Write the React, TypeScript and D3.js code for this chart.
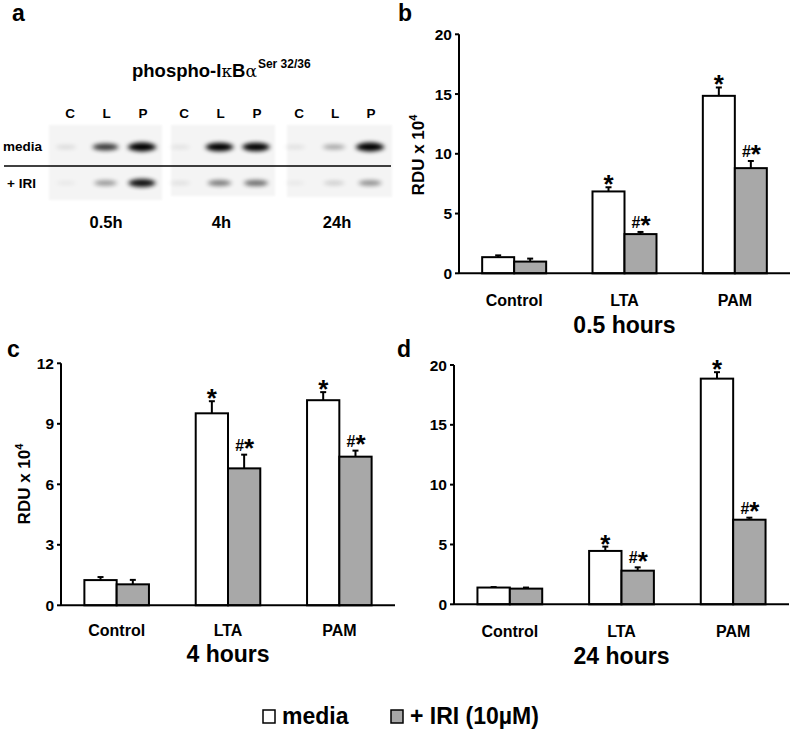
import React from "react";
import * as d3 from "d3";

const categories = ["Control", "LTA", "PAM"];
const series = ["media", "+ IRI (10µM)"];
const seriesFill = ["#ffffff", "#a8a8a8"];

// Panel b: 0.5 hours
const b05Media = [1.35, 6.85, 14.85];
const b05MediaErr = [0.15, 0.35, 0.7];
const b05Iri = [0.98, 3.28, 8.8];
const b05IriErr = [0.25, 0.18, 0.6];

// Panel c: 4 hours
const c4Media = [1.25, 9.52, 10.17];
const c4MediaErr = [0.15, 0.6, 0.4];
const c4Iri = [1.04, 6.79, 7.37];
const c4IriErr = [0.22, 0.68, 0.3];

// Panel d: 24 hours
const d24Media = [1.4, 4.46, 18.86];
const d24MediaErr = [0.04, 0.36, 0.54];
const d24Iri = [1.31, 2.81, 7.07];
const d24IriErr = [0.09, 0.28, 0.17];

const mediaMarks = ["", "*", "*"];
const iriMarks = ["", "#*", "#*"];

const ticks20 = [0, 5, 10, 15, 20];
const ticks12 = [0, 3, 6, 9, 12];

// Panel a: western blot
const blotTimes = ["0.5h", "4h", "24h"];
const blotLanes = ["C", "L", "P"];
const blotMedia = [0.1, 0.7, 1.0, 0.07, 0.95, 0.9, 0.08, 0.3, 1.0];
const blotIri = [0.05, 0.35, 0.85, 0.08, 0.45, 0.5, 0.05, 0.15, 0.38];

const FONT = "'Liberation Sans', Arial, Helvetica, sans-serif";

function Marks({ cx, top, mark }) {
  if (!mark) return null;
  if (mark === "*") {
    return (
      <text x={cx} y={top + 6} textAnchor="middle" fontSize={26} fontWeight="bold" fontFamily={FONT}>
        *
      </text>
    );
  }
  return (
    <g>
      <text x={cx - 4.5} y={top - 4} textAnchor="middle" fontSize={16} fontWeight="bold" fontFamily={FONT}>
        #
      </text>
      <text x={cx + 5} y={top + 2.5} textAnchor="middle" fontSize={26} fontWeight="bold" fontFamily={FONT}>
        *
      </text>
    </g>
  );
}

function BarPanel({ cfg }) {
  const x0 = d3
    .scaleBand()
    .domain(categories)
    .range([cfg.left, cfg.right])
    .paddingInner(0.42)
    .paddingOuter(0.21);
  const x1 = d3.scaleBand().domain(series).range([0, x0.bandwidth()]);
  const y = d3.scaleLinear().domain([0, cfg.yMax]).range([cfg.bottom, cfg.top]);
  const data = [
    { vals: cfg.media, errs: cfg.mediaErr, marks: mediaMarks },
    { vals: cfg.iri, errs: cfg.iriErr, marks: iriMarks },
  ];
  return (
    <g fontFamily={FONT} fontWeight="bold">
      {data.map((s, si) =>
        categories.map((c, ci) => {
          const bx = x0(c) + x1(series[si]);
          const v = s.vals[ci];
          const e = s.errs[ci];
          const cx = bx + x1.bandwidth() / 2;
          const top = y(v + e);
          return (
            <g key={`${si}-${ci}`}>
              <line x1={cx} x2={cx} y1={y(v)} y2={top} stroke="#000" strokeWidth={2} />
              <line x1={cx - 3} x2={cx + 3} y1={top} y2={top} stroke="#000" strokeWidth={2} />
              <rect
                x={bx}
                y={y(v)}
                width={x1.bandwidth()}
                height={y(0) - y(v)}
                fill={seriesFill[si]}
                stroke="#000"
                strokeWidth={2}
              />
              <Marks cx={cx} top={top} mark={s.marks[ci]} />
            </g>
          );
        })
      )}
      <line x1={cfg.left} x2={cfg.left} y1={y(0)} y2={y(cfg.yMax)} stroke="#000" strokeWidth={2} />
      <line x1={cfg.left} x2={cfg.right} y1={y(0)} y2={y(0)} stroke="#000" strokeWidth={2} />
      {cfg.ticks.map((t) => (
        <g key={t}>
          <line x1={cfg.left - 4} x2={cfg.left} y1={y(t)} y2={y(t)} stroke="#000" strokeWidth={2} />
          <text x={cfg.left - 7} y={y(t)} dy="0.36em" textAnchor="end" fontSize={15.5}>
            {t}
          </text>
        </g>
      ))}
      {categories.map((c) => (
        <text key={c} x={x0(c) + x0.bandwidth() / 2} y={cfg.catY} textAnchor="middle" fontSize={16}>
          {c}
        </text>
      ))}
      <text x={x0("LTA") + x0.bandwidth() / 2} y={cfg.titleY} textAnchor="middle" fontSize={23}>
        {cfg.title}
      </text>
      {cfg.yTitle && (
        <text
          transform={`translate(${cfg.yTitle[0]},${cfg.yTitle[1]}) rotate(-90)`}
          textAnchor="middle"
          fontSize={17}
        >
          RDU x 10
          <tspan dy={-7} fontSize={11}>
            4
          </tspan>
        </text>
      )}
    </g>
  );
}

function Blot() {
  const groups = [
    [70, 143],
    [184, 257],
    [299, 371],
  ];
  const panels = [
    [49, 125, 113, 75],
    [171, 125, 104, 71],
    [287, 125, 105, 72],
  ];
  const timeX = d3.scalePoint().domain(blotTimes).range([106, 337]);
  const rowY = [147, 183];
  return (
    <g fontFamily={FONT} fontWeight="bold">
      <defs>
        <filter id="bandBlur" x="-50%" y="-100%" width="200%" height="300%">
          <feGaussianBlur stdDeviation="2.4 2.2" />
        </filter>
        <filter id="bgBlur" x="-10%" y="-10%" width="120%" height="120%">
          <feGaussianBlur stdDeviation="1.2" />
        </filter>
      </defs>
      {panels.map((p, i) => (
        <rect key={i} x={p[0]} y={p[1]} width={p[2]} height={p[3]} fill="#f4f4f4" filter="url(#bgBlur)" />
      ))}
      {blotTimes.map((t, gi) => {
        const lane = d3.scalePoint().domain(blotLanes).range(groups[gi]);
        return (
          <g key={t}>
            {blotLanes.map((l) => (
              <text key={l} x={lane(l)} y={118} textAnchor="middle" fontSize={13.5}>
                {l}
              </text>
            ))}
            {[blotMedia, blotIri].map((row, ri) =>
              blotLanes.map((l, li) => {
                const v = row[gi * 3 + li];
                return (
                  <ellipse
                    key={`${ri}-${l}`}
                    cx={lane(l) - (li === 0 ? 4 : 1)}
                    cy={rowY[ri]}
                    rx={10 + 4 * v}
                    ry={1.8 + 2.6 * v}
                    fill="#000"
                    opacity={Math.min(1, v * 1.1)}
                    filter="url(#bandBlur)"
                  />
                );
              })
            )}
            <text x={timeX(t)} y={228} textAnchor="middle" fontSize={16.5}>
              {t}
            </text>
          </g>
        );
      })}
      <line x1={4} x2={391} y1={166} y2={166} stroke="#000" strokeWidth={1.5} />
      <text x={3} y={151} fontSize={13.5}>
        media
      </text>
      <text x={7} y={188} fontSize={13.5}>
        + IRI
      </text>
      <text x={132} y={77} fontSize={18.5}>
        phospho-I
        <tspan fontWeight="normal" fontFamily="'DejaVu Serif', serif" fontSize={17}>
          κ
        </tspan>
        B
        <tspan fontWeight="normal" fontFamily="'DejaVu Serif', serif" fontSize={17}>
          α
        </tspan>
        <tspan dx={1} dy={-9} fontSize={12}>
          Ser 32/36
        </tspan>
      </text>
    </g>
  );
}

export default function App() {
  const panelB = {
    left: 459, right: 790, top: 34.3, bottom: 273.3, yMax: 20, ticks: ticks20,
    media: b05Media, mediaErr: b05MediaErr, iri: b05Iri, iriErr: b05IriErr,
    catY: 306, titleY: 333, title: "0.5 hours", yTitle: [424, 155],
  };
  const panelC = {
    left: 61, right: 395, top: 363.3, bottom: 605.3, yMax: 12, ticks: ticks12,
    media: c4Media, mediaErr: c4MediaErr, iri: c4Iri, iriErr: c4IriErr,
    catY: 636, titleY: 662, title: "4 hours", yTitle: [30, 484],
  };
  const panelD = {
    left: 454, right: 789, top: 365, bottom: 604.3, yMax: 20, ticks: ticks20,
    media: d24Media, mediaErr: d24MediaErr, iri: d24Iri, iriErr: d24IriErr,
    catY: 637, titleY: 664, title: "24 hours", yTitle: null,
  };
  return (
    <svg
      width={793}
      height={735}
      viewBox="0 0 793 735"
      style={{ position: "absolute", left: 0, top: 0, background: "#fff" }}
    >
      <rect width={793} height={735} fill="#fff" />
      <g fontFamily={FONT} fontWeight="bold" fontSize={23}>
        <text x={12} y={21}>a</text>
        <text x={398} y={21}>b</text>
        <text x={7} y={357}>c</text>
        <text x={397} y={357}>d</text>
      </g>
      <Blot />
      <BarPanel cfg={panelB} />
      <BarPanel cfg={panelC} />
      <BarPanel cfg={panelD} />
      <g fontFamily={FONT} fontWeight="bold" fontSize={23}>
        <rect x={263} y={710} width={12} height={13} fill="#fff" stroke="#000" strokeWidth={1.5} />
        <text x={282} y={724}>media</text>
        <rect x={391} y={710} width={12} height={13} fill={seriesFill[1]} stroke="#000" strokeWidth={1.5} />
        <text x={410} y={724}>+ IRI (10µM)</text>
      </g>
    </svg>
  );
}
